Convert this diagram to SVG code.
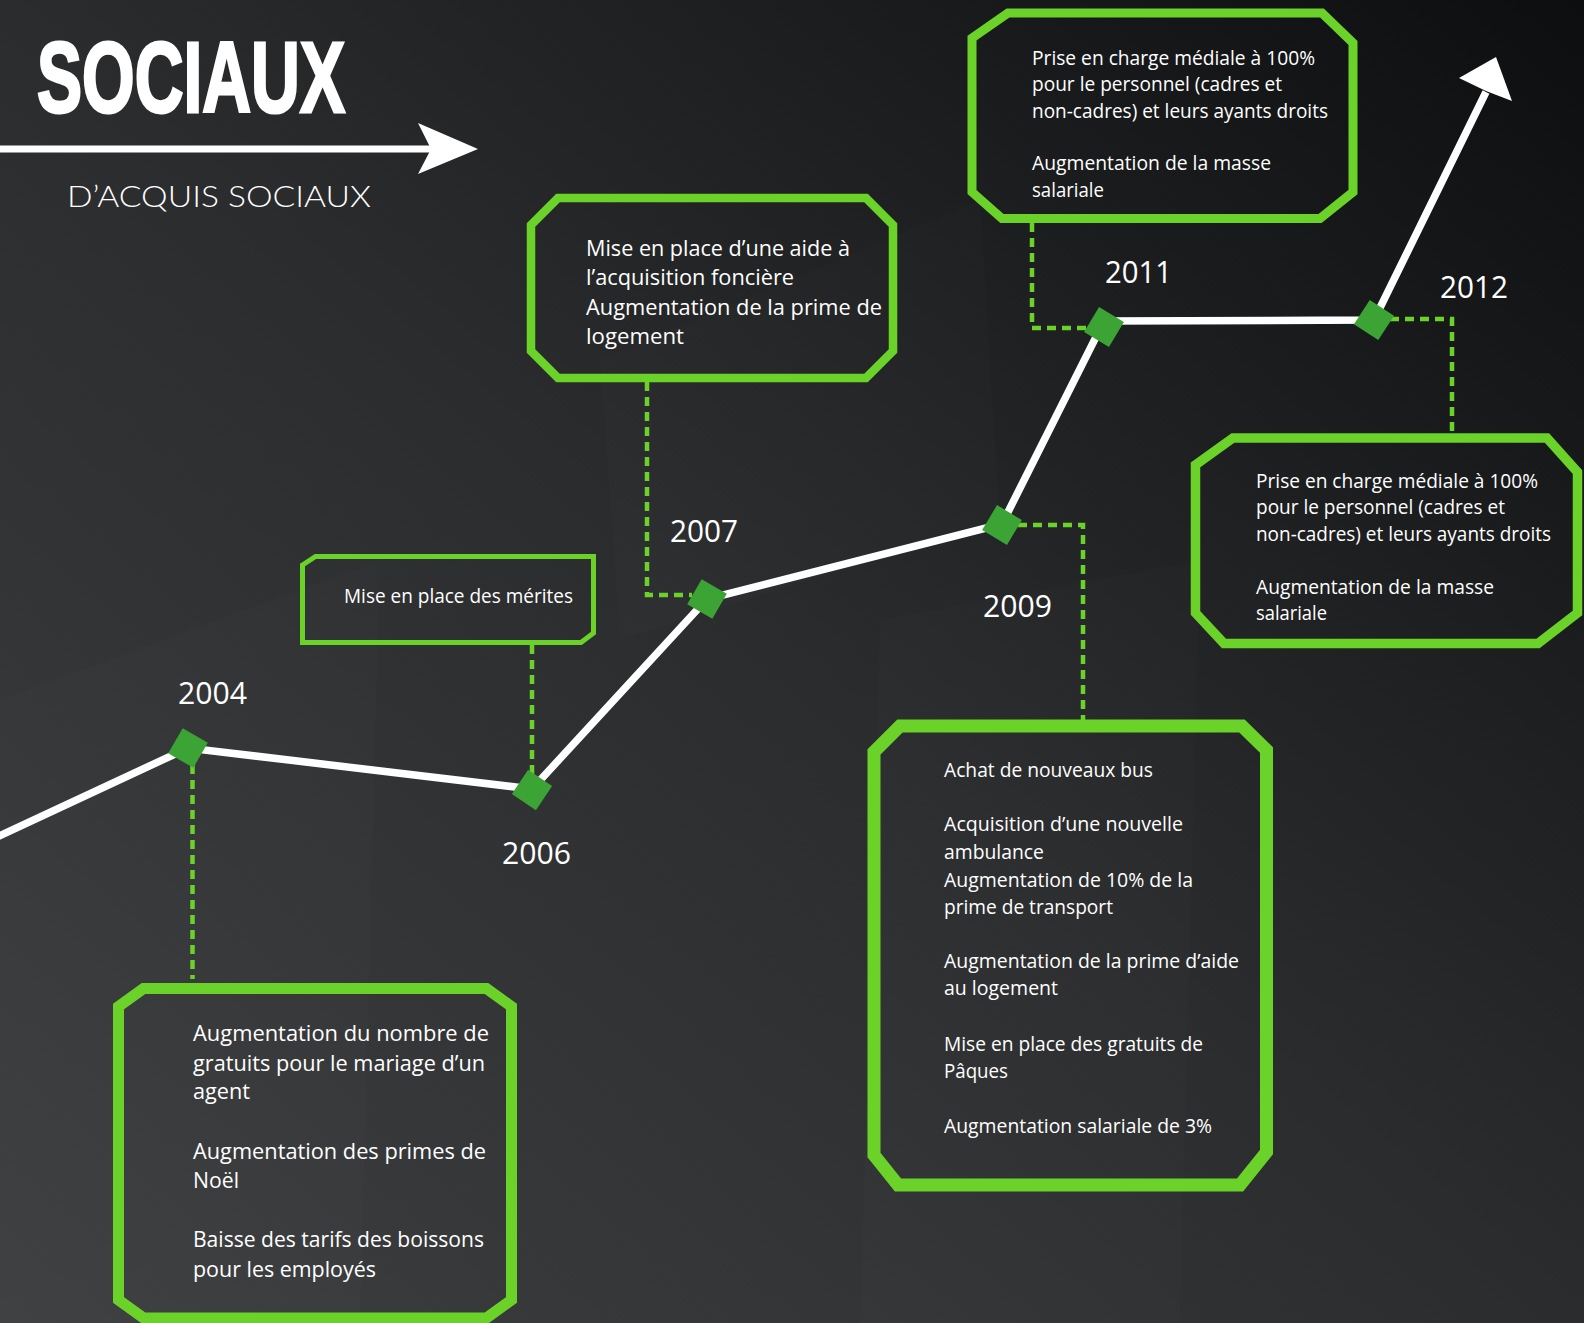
<svg xmlns="http://www.w3.org/2000/svg" width="1584" height="1323" viewBox="0 0 1584 1323">
<defs>
<linearGradient id="bgg" x1="0" y1="1" x2="1" y2="0">
<stop offset="0" stop-color="#3e3f41"/>
<stop offset="0.5" stop-color="#2b2c2e"/>
<stop offset="1" stop-color="#0d0e0f"/>
</linearGradient>
<style>
.box{fill:none;stroke:#6bd22a;stroke-linejoin:miter}
.dash{fill:none;stroke:#6bd22a;stroke-width:4.5;stroke-dasharray:9 6}
.mk{fill:#3ca335}
.tl{fill:none;stroke:#fff;stroke-width:7.5;stroke-linejoin:miter}
.t{font-family:"Open Sans","Noto Sans","Liberation Sans",sans-serif;fill:#fff}
.yr{font-family:"Open Sans","Noto Sans","Liberation Sans",sans-serif;fill:#fff;font-size:31px}
.facet{fill:#ffffff;opacity:0.01}
</style>
</defs>
<rect width="1584" height="1323" fill="url(#bgg)"/>
<g id="facets">
<polygon class="facet" points="0,700 380,560 360,1323 0,1323"/>
<polygon class="facet" points="880,620 1200,560 1180,1323 860,1323"/>
<polygon class="facet" points="600,360 980,200 1000,520 620,640"/>
</g>

<g id="title">
<text x="37" y="112" font-family="'Liberation Sans','DejaVu Sans',sans-serif" font-weight="bold" font-size="100" fill="#fff" stroke="#fff" stroke-width="3" textLength="308" lengthAdjust="spacingAndGlyphs">SOCIAUX</text>
<rect x="0" y="145.5" width="432" height="7" fill="#fff"/>
<polygon points="418,123 478,149 418,174 431,149" fill="#fff"/>
<text x="67" y="207" font-family="Lato,'Open Sans','Liberation Sans',sans-serif" font-weight="300" font-size="29" fill="#fff" textLength="304" lengthAdjust="spacingAndGlyphs">D’ACQUIS SOCIAUX</text>
</g>

<g id="connectors">
<polyline class="tl" points="-5,838 188,748 532,789 707,599 1002,524 1104,321 1374,320 1486,92"/>
<polygon points="1459,78 1496,57 1512,101 1486,91" fill="#fff"/>
<path class="dash" d="M192.5 765 V979"/>
<path class="dash" d="M532 645 V775"/>
<path class="dash" d="M647 382 V595 H692"/>
<path class="dash" d="M1018 525 H1083 V720"/>
<path class="dash" d="M1032 223 V328 H1090"/>
<path class="dash" d="M1390 319 H1452 V434"/>
</g>

<g id="markers">
<rect class="mk" x="-14.5" y="-14.5" width="29" height="29" transform="translate(188 748) rotate(30)"/>
<rect class="mk" x="-14.5" y="-14.5" width="29" height="29" transform="translate(532 790) rotate(34)"/>
<rect class="mk" x="-14.5" y="-14.5" width="29" height="29" transform="translate(707 599) rotate(30)"/>
<rect class="mk" x="-14.5" y="-14.5" width="29" height="29" transform="translate(1002 525) rotate(31)"/>
<rect class="mk" x="-14.5" y="-14.5" width="29" height="29" transform="translate(1104 327) rotate(31)"/>
<rect class="mk" x="-14.5" y="-14.5" width="29" height="29" transform="translate(1374 320) rotate(33)"/>
</g>

<g id="node-2004">
<polygon class="box" stroke-width="11" points="143.5,988.5 486.5,988.5 511.5,1006.5 511.5,1300 486.5,1318 143.5,1318 118.5,1300 118.5,1006.5"/>
<text class="yr" x="178" y="704" textLength="69" lengthAdjust="spacingAndGlyphs">2004</text>
<g class="t" font-size="22">
<text x="193" y="1041" textLength="296" lengthAdjust="spacingAndGlyphs">Augmentation du nombre de</text>
<text x="193" y="1071" textLength="292" lengthAdjust="spacingAndGlyphs">gratuits pour le mariage d’un</text>
<text x="193" y="1099" textLength="57" lengthAdjust="spacingAndGlyphs">agent</text>
<text x="193" y="1159" textLength="293" lengthAdjust="spacingAndGlyphs">Augmentation des primes de</text>
<text x="193" y="1188" textLength="46" lengthAdjust="spacingAndGlyphs">Noël</text>
<text x="193" y="1247" textLength="291" lengthAdjust="spacingAndGlyphs">Baisse des tarifs des boissons</text>
<text x="193" y="1277" textLength="183" lengthAdjust="spacingAndGlyphs">pour les employés</text>
</g>
</g>

<g id="node-2006">
<polygon class="box" stroke-width="5" points="315.5,556.5 593.5,556.5 593.5,633 581,642.5 302.5,642.5 302.5,565"/>
<text class="yr" x="502" y="864" textLength="69" lengthAdjust="spacingAndGlyphs">2006</text>
<text class="t" font-size="20" x="344" y="603" textLength="229" lengthAdjust="spacingAndGlyphs">Mise en place des mérites</text>
</g>

<g id="node-2007">
<polygon class="box" stroke-width="8.5" points="558,198 866,198 893,225 893,351 866,378 558,378 531,351 531,225"/>
<text class="yr" x="670" y="542" textLength="68" lengthAdjust="spacingAndGlyphs">2007</text>
<g class="t" font-size="22">
<text x="586" y="256" textLength="264" lengthAdjust="spacingAndGlyphs">Mise en place d’une aide à</text>
<text x="586" y="285" textLength="208" lengthAdjust="spacingAndGlyphs">l’acquisition foncière</text>
<text x="586" y="315" textLength="296" lengthAdjust="spacingAndGlyphs">Augmentation de la prime de</text>
<text x="586" y="344" textLength="98" lengthAdjust="spacingAndGlyphs">logement</text>
</g>
</g>

<g id="node-2009">
<polygon class="box" stroke-width="13" points="900,726 1242,726 1266.5,750 1266.5,1152 1240,1185 898,1185 874,1155 874,752"/>
<text class="yr" x="983" y="617" textLength="69" lengthAdjust="spacingAndGlyphs">2009</text>
<g class="t" font-size="19.5">
<text x="944" y="777" textLength="209" lengthAdjust="spacingAndGlyphs">Achat de nouveaux bus</text>
<text x="944" y="831" textLength="239" lengthAdjust="spacingAndGlyphs">Acquisition d’une nouvelle</text>
<text x="944" y="859" textLength="100" lengthAdjust="spacingAndGlyphs">ambulance</text>
<text x="944" y="887" textLength="249" lengthAdjust="spacingAndGlyphs">Augmentation de 10% de la</text>
<text x="944" y="914" textLength="169" lengthAdjust="spacingAndGlyphs">prime de transport</text>
<text x="944" y="968" textLength="295" lengthAdjust="spacingAndGlyphs">Augmentation de la prime d’aide</text>
<text x="944" y="995" textLength="114" lengthAdjust="spacingAndGlyphs">au logement</text>
<text x="944" y="1051" textLength="259" lengthAdjust="spacingAndGlyphs">Mise en place des gratuits de</text>
<text x="944" y="1078" textLength="64" lengthAdjust="spacingAndGlyphs">Pâques</text>
<text x="944" y="1133" textLength="268" lengthAdjust="spacingAndGlyphs">Augmentation salariale de 3%</text>
</g>
</g>

<g id="node-2011">
<polygon class="box" stroke-width="9" points="1008,13 1322,13 1353,43 1353,192 1320,218.5 1002,218.5 972,192 972,38"/>
<text class="yr" x="1105" y="283" textLength="67" lengthAdjust="spacingAndGlyphs">2011</text>
<g class="t" font-size="20.5">
<text x="1032" y="65" textLength="283" lengthAdjust="spacingAndGlyphs">Prise en charge médiale à 100%</text>
<text x="1032" y="91" textLength="250" lengthAdjust="spacingAndGlyphs">pour le personnel (cadres et</text>
<text x="1032" y="118" textLength="296" lengthAdjust="spacingAndGlyphs">non-cadres) et leurs ayants droits</text>
<text x="1032" y="170" textLength="239" lengthAdjust="spacingAndGlyphs">Augmentation de la masse</text>
<text x="1032" y="197" textLength="72" lengthAdjust="spacingAndGlyphs">salariale</text>
</g>
</g>

<g id="node-2012">
<polygon class="box" stroke-width="9.5" points="1233,438 1547,438 1577.5,472 1577.5,613 1538,643.5 1224,643.5 1195.5,613 1195.5,465"/>
<text class="yr" x="1440" y="298" textLength="68" lengthAdjust="spacingAndGlyphs">2012</text>
<g class="t" font-size="19.5">
<text x="1256" y="488" textLength="282" lengthAdjust="spacingAndGlyphs">Prise en charge médiale à 100%</text>
<text x="1256" y="514" textLength="249" lengthAdjust="spacingAndGlyphs">pour le personnel (cadres et</text>
<text x="1256" y="541" textLength="295" lengthAdjust="spacingAndGlyphs">non-cadres) et leurs ayants droits</text>
<text x="1256" y="594" textLength="238" lengthAdjust="spacingAndGlyphs">Augmentation de la masse</text>
<text x="1256" y="620" textLength="71" lengthAdjust="spacingAndGlyphs">salariale</text>
</g>
</g>
</svg>
